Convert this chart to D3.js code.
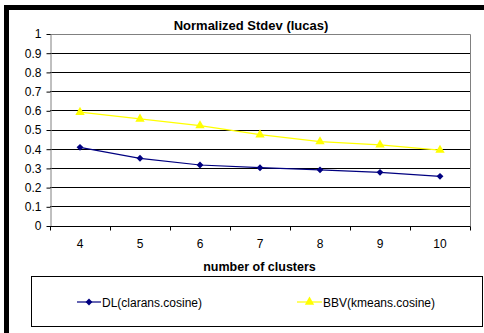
<!DOCTYPE html>
<html>
<head>
<meta charset="utf-8">
<script src="https://cdn.jsdelivr.net/npm/d3@7"></script>
<style>
  html, body { margin: 0; padding: 0; background: #fff; }
  svg { display: block; font-family: "Liberation Sans", Arial, sans-serif; }
</style>
</head>
<body>
<svg id="chart" width="484" height="333"></svg>
<script>
// Cluster counts on the x axis
const clusters = ["4", "5", "6", "7", "8", "9", "10"];
// Normalized standard deviation per method
const dlClarans = [0.407, 0.35, 0.315, 0.301, 0.29, 0.277, 0.256];
const bbvKmeans = [0.59, 0.555, 0.52, 0.473, 0.437, 0.42, 0.393];
const yTicks = [0, 0.1, 0.2, 0.3, 0.4, 0.5, 0.6, 0.7, 0.8, 0.9, 1];

const series = [
  { name: "DL(clarans.cosine)", values: dlClarans, color: "#000080", marker: "diamond" },
  { name: "BBV(kmeans.cosine)", values: bbvKmeans, color: "#FFFF00", marker: "triangle" }
];

const svg = d3.select("#chart");

// Outer frame: thick black top and left edges
svg.append("rect").attr("x", 4).attr("y", 5).attr("width", 480).attr("height", 5).attr("fill", "#000");
svg.append("rect").attr("x", 4).attr("y", 5).attr("width", 5).attr("height", 328).attr("fill", "#000");

const plot = { left: 50, right: 470, top: 33.5, bottom: 225.5 };

const x = d3.scaleBand().domain(clusters).range([plot.left, plot.right]);
const y = d3.scaleLinear().domain([0, 1]).range([plot.bottom, plot.top]);

// Horizontal gridlines
svg.append("g").selectAll("line").data(yTicks.filter(t => t > 0 && t < 1)).join("line")
  .attr("x1", plot.left).attr("x2", plot.right)
  .attr("y1", d => Math.round(y(d)) + 0.5).attr("y2", d => Math.round(y(d)) + 0.5)
  .attr("stroke", "#000").attr("stroke-width", 1);

// Plot border (top and right)
svg.append("path")
  .attr("d", `M${plot.left},${Math.round(plot.top) + 0.5}H${plot.right + 0.5}V${Math.round(plot.bottom)}`)
  .attr("fill", "none").attr("stroke", "#808080");

// Y axis
const yAxis = svg.append("g")
  .attr("transform", `translate(${plot.left + 0.5},0.5)`)
  .call(d3.axisLeft(y).tickValues(yTicks).tickSize(4).tickSizeOuter(0).tickFormat(d => d3.format("")(+d.toFixed(1))));
yAxis.select(".domain").attr("stroke", "#808080");
yAxis.selectAll(".tick line").attr("stroke", "#000");
yAxis.selectAll(".tick text").attr("font-size", 12).attr("fill", "#000").attr("x", -9)
  .attr("font-family", "Liberation Sans, Arial, sans-serif");

// X axis with ticks on band boundaries
const xAxisG = svg.append("g").attr("transform", `translate(0,${Math.round(plot.bottom) + 0.5})`);
xAxisG.append("line").attr("x1", plot.left).attr("x2", plot.right + 0.5).attr("stroke", "#000");
const boundaries = clusters.map(c => x(c)).concat([x(clusters[clusters.length - 1]) + x.bandwidth()]);
xAxisG.selectAll("line.tk").data(boundaries).join("line").attr("class", "tk")
  .attr("x1", d => Math.round(d) + 0.5).attr("x2", d => Math.round(d) + 0.5)
  .attr("y1", 0).attr("y2", 4).attr("stroke", "#000");
xAxisG.selectAll("text").data(clusters).join("text")
  .attr("x", d => x(d) + x.bandwidth() / 2).attr("y", 21.5)
  .attr("text-anchor", "middle").attr("font-size", 12).attr("fill", "#000").text(d => d);

// Titles
svg.append("text").attr("x", 251).attr("y", 29.5).attr("text-anchor", "middle")
  .attr("font-size", 13).attr("font-weight", "bold").text("Normalized Stdev (lucas)");
svg.append("text").attr("x", 259.5).attr("y", 271).attr("text-anchor", "middle")
  .attr("font-size", 12.5).attr("font-weight", "bold").text("number of clusters");

const diamond = d3.symbol().type(d3.symbolDiamond2).size(30);
const triangle = d3.symbol().type(d3.symbolTriangle).size(38);

function drawMarker(g, s, cx, cy) {
  if (s.marker === "diamond") {
    g.append("path").attr("d", diamond()).attr("transform", `translate(${cx},${cy})`).attr("fill", s.color);
  } else {
    g.append("path").attr("d", triangle()).attr("transform", `translate(${cx},${cy})`).attr("fill", s.color);
  }
}

// Series lines and markers
const line = d3.line().x((d, i) => x(clusters[i]) + x.bandwidth() / 2).y(d => y(d));
series.forEach(s => {
  const g = svg.append("g");
  g.append("path").attr("d", line(s.values)).attr("fill", "none")
    .attr("stroke", s.color).attr("stroke-width", 1.2);
  s.values.forEach((v, i) => drawMarker(g, s, x(clusters[i]) + x.bandwidth() / 2, y(v)));
});

// Legend
svg.append("rect").attr("x", 31.5).attr("y", 276.5).attr("width", 451).attr("height", 50)
  .attr("fill", "#fff").attr("stroke", "#000");
const legendPos = [{ x1: 77, x2: 101 }, { x1: 297, x2: 322 }];
series.forEach((s, i) => {
  const g = svg.append("g");
  const ly = 302;
  g.append("line").attr("x1", legendPos[i].x1).attr("x2", legendPos[i].x2)
    .attr("y1", ly).attr("y2", ly).attr("stroke", s.color).attr("stroke-width", 1.2);
  drawMarker(g, s, (legendPos[i].x1 + legendPos[i].x2) / 2, ly);
  g.append("text").attr("x", legendPos[i].x2 + 1).attr("y", ly + 4.5)
    .attr("font-size", 12).attr("fill", "#000").text(s.name);
});
</script>
</body>
</html>
